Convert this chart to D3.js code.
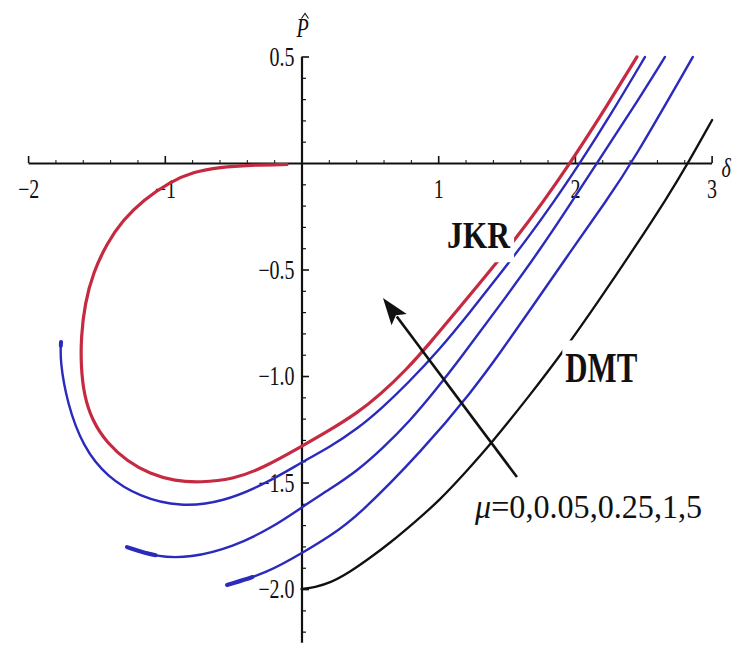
<!DOCTYPE html>
<html>
<head>
<meta charset="utf-8">
<script src="https://cdn.jsdelivr.net/npm/d3@7"></script>
<style>
  html, body { margin: 0; padding: 0; background: #fff; }
  svg { display: block; }
</style>
</head>
<body>
<svg id="chart" width="735" height="645"></svg>
<script>
// Tick positions on the two axes
const xTicks = [-2, -1, 1, 2, 3];
const yTicks = [0.5, -0.5, -1.0, -1.5, -2.0];

// Tabor parameter values of the five load–approach curves
const muValues = [0, 0.05, 0.25, 1, 5];

// Normalised load P̂ against approach δ, one [δ, P̂] list per curve
const curveMu0 = [ // DMT limit
  [0.00, -2.00], [0.099, -1.991], [0.208, -1.972], [0.355, -1.920], [0.501, -1.854],
  [0.647, -1.784], [0.830, -1.685], [1.013, -1.582], [1.196, -1.455], [1.379, -1.324],
  [1.672, -1.089], [1.913, -0.887], [2.184, -0.638], [2.440, -0.394], [2.674, -0.164],
  [2.828, 0.00], [3.004, 0.202]
];
const curveMu005 = [
  [-0.545, -1.981], [-0.252, -1.925], [0.004, -1.831], [0.208, -1.751], [0.406, -1.662],
  [0.889, -1.347], [1.254, -1.066], [1.452, -0.892], [1.672, -0.690], [1.950, -0.432],
  [2.234, -0.174], [2.417, 0.00], [2.863, 0.498]
];
const curveMu025 = [
  [-1.277, -1.803], [-1.057, -1.850], [-0.816, -1.854], [-0.501, -1.803], [-0.208, -1.709],
  [0.004, -1.615], [0.208, -1.531], [0.406, -1.446], [0.596, -1.338], [0.793, -1.211],
  [0.977, -1.070], [1.159, -0.920], [1.452, -0.667], [1.745, -0.408], [1.986, -0.174],
  [2.161, 0.00], [2.403, 0.235], [2.659, 0.498]
];
const curveMu1 = [
  [-1.759, -0.840], [-1.767, -0.925], [-1.715, -1.127], [-1.598, -1.333], [-1.423, -1.474],
  [-1.181, -1.568], [-0.889, -1.615], [-0.574, -1.592], [-0.252, -1.502], [0.004, -1.404],
  [0.208, -1.333], [0.406, -1.249], [0.589, -1.150], [0.772, -1.038], [1.013, -0.873],
  [1.233, -0.700], [1.452, -0.521], [1.650, -0.357], [1.840, -0.188], [2.037, 0.00],
  [2.257, 0.221], [2.513, 0.498]
];
const curveMu5 = [ // JKR limit
  [-0.106, -0.007], [-0.377, -0.010], [-0.596, -0.019], [-0.794, -0.042], [-0.962, -0.089],
  [-1.159, -0.174], [-1.306, -0.268], [-1.423, -0.376], [-1.525, -0.516], [-1.584, -0.657],
  [-1.613, -0.817], [-1.613, -0.958], [-1.591, -1.089], [-1.533, -1.207], [-1.423, -1.315],
  [-1.277, -1.399], [-1.108, -1.460], [-0.925, -1.493], [-0.742, -1.500], [-0.501, -1.485],
  [-0.282, -1.432], [0.004, -1.329], [0.208, -1.254], [0.406, -1.174], [0.574, -1.089],
  [0.772, -0.967], [0.940, -0.845], [1.159, -0.676], [1.379, -0.507], [1.576, -0.347],
  [1.767, -0.183], [1.965, 0.00], [2.184, 0.216], [2.454, 0.498]
];

// Arrow showing the direction of growing μ: tail, tip
const muArrow = [[1.576, -1.474], [0.596, -0.634]];

const serif = '"Liberation Serif", "Times New Roman", serif';
const SY = 1.33; // vertical stretch of the lettering
const RED = "#c62a40", BLUE = "#2a2abc", BLACK = "#111";

const svg = d3.select("#chart");
svg.append("rect").attr("width", 735).attr("height", 645).attr("fill", "#fff");

const x = d3.scaleLinear().domain([-2, 3]).range([28.1, 711.6]);
const y = d3.scaleLinear().domain([0.5, -2.25]).range([56.5, 642.3]);

const fmtX = d3.format("d");
const fmtY = d3.format(".1f");

// ---- horizontal axis (through P̂ = 0) ----
const minorX = d3.range(-20, 31, 2).map(v => v / 10).filter(v => v % 1 !== 0);
const gxMinor = svg.append("g").attr("transform", `translate(0,${y(0)})`)
  .call(d3.axisBottom(x).tickValues(minorX).tickSizeInner(-3).tickSizeOuter(0).tickFormat(""));
gxMinor.select(".domain").remove();
gxMinor.selectAll(".tick text").remove();
gxMinor.selectAll(".tick line").attr("stroke", BLACK).attr("stroke-width", 1);

const gx = svg.append("g").attr("transform", `translate(0,${y(0)})`)
  .call(d3.axisBottom(x).tickValues(xTicks).tickSizeInner(-7).tickSizeOuter(0).tickFormat(""));
gx.select(".domain").attr("stroke", BLACK).attr("stroke-width", 2.2);
gx.selectAll(".tick line").attr("stroke", BLACK).attr("stroke-width", 1.6);
gx.selectAll(".tick text").remove();
gx.selectAll(".tick").append("text")
  .attr("transform", `translate(0,35) scale(1,${SY})`)
  .attr("text-anchor", "middle")
  .attr("font-family", serif).attr("font-size", 20).attr("fill", BLACK)
  .text(d => fmtX(d));

// ---- vertical axis (through δ = 0) ----
const minorY = d3.range(-22, 6, 1).map(v => v / 10).filter(v => v % 0.5 !== 0);
const gyMinor = svg.append("g").attr("transform", `translate(${x(0)},0)`)
  .call(d3.axisLeft(y).tickValues(minorY).tickSizeInner(-4.5).tickSizeOuter(0).tickFormat(""));
gyMinor.select(".domain").remove();
gyMinor.selectAll(".tick text").remove();
gyMinor.selectAll(".tick line").attr("stroke", BLACK).attr("stroke-width", 1.2);

const gy = svg.append("g").attr("transform", `translate(${x(0)},0)`)
  .call(d3.axisLeft(y).tickValues(yTicks).tickSizeInner(-7.5).tickSizeOuter(0).tickFormat(""));
gy.select(".domain").attr("stroke", BLACK).attr("stroke-width", 2.2);
gy.selectAll(".tick line").attr("stroke", BLACK).attr("stroke-width", 1.6);
gy.selectAll(".tick text").remove();
gy.selectAll(".tick").append("text")
  .attr("transform", `translate(-7,8.5) scale(1,${SY})`)
  .attr("text-anchor", "end")
  .attr("font-family", serif).attr("font-size", 20).attr("fill", BLACK)
  .text(d => fmtY(d));

// axis titles
svg.append("text")
  .attr("transform", `translate(${x(3) + 10},177) scale(1,${SY})`)
  .attr("font-family", serif).attr("font-style", "italic").attr("font-size", 20)
  .attr("fill", BLACK).text("δ");
svg.append("text")
  .attr("transform", `translate(${x(0) - 5},37) scale(1,${SY})`)
  .attr("font-family", serif).attr("font-style", "italic").attr("font-size", 20)
  .attr("fill", BLACK).text("P");
// circumflex over the P
const hx = x(0) + 3.5;
svg.append("path")
  .attr("d", `M${hx - 3.5},18.5L${hx},13.5L${hx + 3.5},18.5`)
  .attr("fill", "none").attr("stroke", BLACK).attr("stroke-width", 1.1);

// ---- curves ----
const line = d3.line()
  .x(d => x(d[0])).y(d => y(d[1]))
  .curve(d3.curveBasis);

const series = [
  { mu: muValues[0], data: curveMu0,   color: BLACK, width: 2.3 },
  { mu: muValues[1], data: curveMu005, color: BLUE,  width: 2.4, thickStart: 27 },
  { mu: muValues[2], data: curveMu025, color: BLUE,  width: 2.4, thickStart: 30 },
  { mu: muValues[3], data: curveMu1,   color: BLUE,  width: 2.4, thickStart: 4 },
  { mu: muValues[4], data: curveMu5,   color: RED,   width: 3.2 }
];

const gCurves = svg.append("g").attr("fill", "none");
gCurves.selectAll("path.curve").data(series).join("path")
  .attr("class", "curve")
  .attr("d", s => line(s.data))
  .attr("stroke", s => s.color)
  .attr("stroke-width", s => s.width)
  .attr("stroke-linecap", "round")
  .attr("stroke-linejoin", "round");
// heavier ink where the plotted branches begin
gCurves.selectAll("path.start").data(series.filter(s => s.thickStart)).join("path")
  .attr("class", "start")
  .attr("d", s => line(s.data))
  .attr("stroke", s => s.color)
  .attr("stroke-width", 4)
  .attr("stroke-dasharray", s => `${s.thickStart} 5000`)
  .attr("stroke-linecap", "round");

// ---- annotations ----
function label(dx, dy, txt, opts) {
  const tx = x(dx), ty = y(dy);
  if (opts.box) {
    svg.append("rect")
      .attr("x", tx + opts.box[0]).attr("y", ty + opts.box[1])
      .attr("width", opts.box[2]).attr("height", opts.box[3])
      .attr("fill", "#fff");
  }
  const t = svg.append("text")
    .attr("transform", `translate(${tx},${ty}) scale(1,${opts.sy})`)
    .attr("font-family", serif).attr("font-size", opts.size)
    .attr("font-weight", opts.weight || "normal")
    .attr("fill", BLACK);
  if (opts.len) t.attr("textLength", opts.len).attr("lengthAdjust", "spacingAndGlyphs");
  return t.text(txt);
}

label(1.065, -0.40, "JKR", { size: 30, sy: 1.23, weight: "bold", len: 63, box: [-5, -30, 72, 44] });
label(1.93, -1.03, "DMT", { size: 31, sy: 1.36, weight: "bold", len: 72, box: [-3, -42, 83, 51] });

const muLabel = label(1.27, -1.667, "", { size: 30, sy: 1.13, len: 227 });
muLabel.append("tspan").attr("font-style", "italic").text("μ");
muLabel.append("tspan").text("=" + muValues.join(","));

// arrow pointing towards growing μ
const [a0, a1] = muArrow;
const p0 = [x(a0[0]), y(a0[1])], p1 = [x(a1[0]), y(a1[1])];
const len = Math.hypot(p1[0] - p0[0], p1[1] - p0[1]);
const ux = (p1[0] - p0[0]) / len, uy = (p1[1] - p0[1]) / len;
const headL = 27, headW = 9.5;
const base = [p1[0] - ux * headL, p1[1] - uy * headL];
svg.append("line")
  .attr("x1", p0[0]).attr("y1", p0[1])
  .attr("x2", base[0] + ux * 4).attr("y2", base[1] + uy * 4)
  .attr("stroke", BLACK).attr("stroke-width", 2.6);
svg.append("path")
  .attr("d", `M${p1[0]},${p1[1]}` +
    `L${base[0] - uy * headW},${base[1] + ux * headW}` +
    `L${p1[0] - ux * headL * 0.8},${p1[1] - uy * headL * 0.8}` +
    `L${base[0] + uy * headW},${base[1] - ux * headW}Z`)
  .attr("fill", BLACK);
</script>
</body>
</html>
